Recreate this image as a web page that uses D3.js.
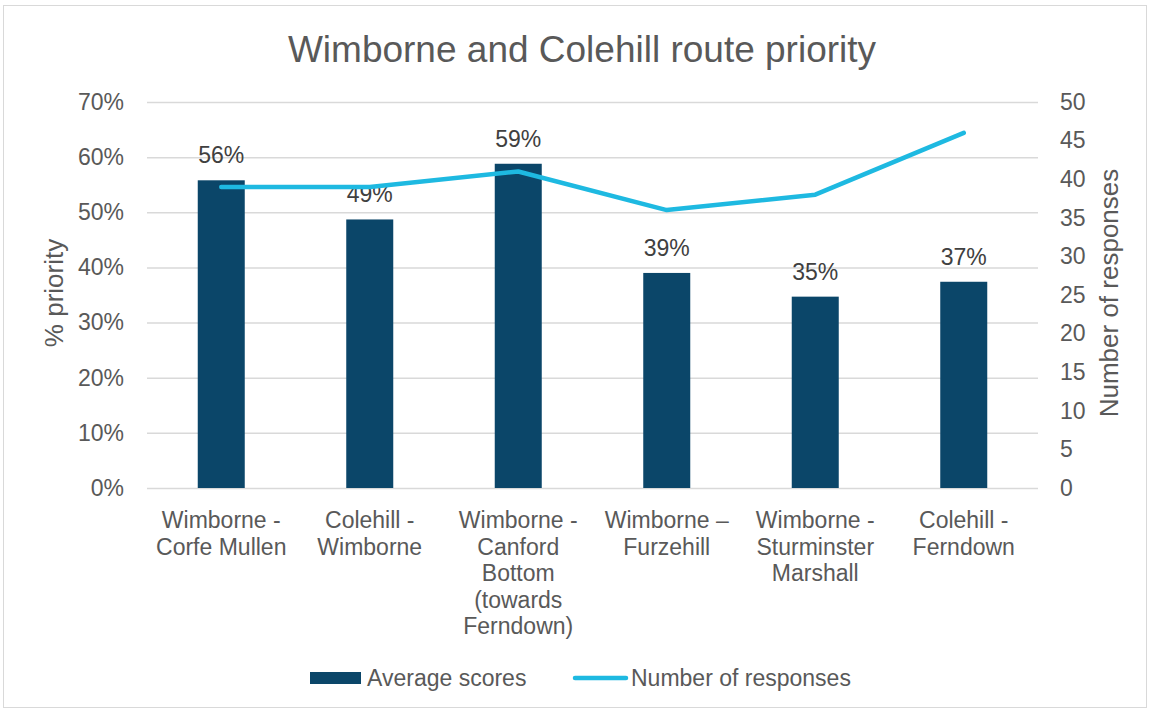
<!DOCTYPE html>
<html lang="en">
<head>
<meta charset="UTF-8">
<title>Wimborne and Colehill route priority</title>
<style>
    html, body { margin: 0; padding: 0; background: #fff; }
    svg { display: block; font-family: "Liberation Sans", Arial, sans-serif; }
</style>
</head>
<body>
<svg id="svg" width="1150" height="711"></svg>
<script src="https://d3js.org/d3.v7.min.js"></script>
<script>
    // chart values
    const routes = [
        ["Wimborne -", "Corfe Mullen"],
        ["Colehill -", "Wimborne"],
        ["Wimborne -", "Canford", "Bottom", "(towards", "Ferndown)"],
        ["Wimborne \u2013", "Furzehill"],
        ["Wimborne -", "Sturminster", "Marshall"],
        ["Colehill -", "Ferndown"]
    ];
    const averageScores = [0.558, 0.487, 0.588, 0.39, 0.347, 0.374];
    const responses = [39, 39, 41, 36, 38, 46];
    const leftTicks = [0, 0.1, 0.2, 0.3, 0.4, 0.5, 0.6, 0.7];
    const rightTicks = [0, 5, 10, 15, 20, 25, 30, 35, 40, 45, 50];

    const barColor = '#0b4669';
    const lineColor = '#1eb9e1';
    const textColor = '#595959';

    const margin = { top: 102, right: 112, bottom: 223, left: 147 };
    const width = 1150 - margin.left - margin.right;
    const height = 711 - margin.top - margin.bottom;

    const svg = d3.select('#svg');

    // outer border
    svg.append('rect')
        .attr('x', 3.5).attr('y', 5.5)
        .attr('width', 1143).attr('height', 702)
        .attr('fill', 'none').attr('stroke', '#d9d9d9');

    svg.append('text')
        .attr('x', 582).attr('y', 62)
        .attr('text-anchor', 'middle')
        .attr('font-size', 37)
        .attr('fill', textColor)
        .text('Wimborne and Colehill route priority');

    const g = svg.append('g').attr('transform', `translate(${margin.left},${margin.top})`);

    const x = d3.scaleBand()
        .domain(d3.range(routes.length))
        .range([0, width]);

    const yLeft = d3.scaleLinear().domain([0, 0.7]).range([height, 0]);
    const yRight = d3.scaleLinear().domain([0, 50]).range([height, 0]);

    // gridlines + left axis
    const leftAxis = d3.axisLeft(yLeft)
        .tickValues(leftTicks)
        .tickSize(-width)
        .tickPadding(23)
        .tickFormat(d3.format('.0%'));

    const la = g.append('g').call(leftAxis);
    la.select('.domain').remove();
    la.selectAll('line').attr('stroke', '#d9d9d9').attr('stroke-width', 1.5);
    la.selectAll('text').attr('font-size', 23).attr('fill', textColor);

    const rightAxis = d3.axisRight(yRight)
        .tickValues(rightTicks)
        .tickSize(0)
        .tickPadding(22);
    const ra = g.append('g').attr('transform', `translate(${width},0)`).call(rightAxis);
    ra.select('.domain').remove();
    ra.selectAll('text').attr('font-size', 23).attr('fill', textColor);

    // bars
    const barW = 47;
    g.selectAll('.bar')
        .data(averageScores)
        .join('rect')
        .attr('class', 'bar')
        .attr('x', (d, i) => x(i) + x.bandwidth() / 2 - barW / 2)
        .attr('y', d => yLeft(d))
        .attr('width', barW)
        .attr('height', d => height - yLeft(d))
        .attr('fill', barColor);

    // bar labels
    g.selectAll('.barlabel')
        .data(averageScores)
        .join('text')
        .attr('class', 'barlabel')
        .attr('x', (d, i) => x(i) + x.bandwidth() / 2)
        .attr('y', d => yLeft(d) - 17)
        .attr('text-anchor', 'middle')
        .attr('font-size', 23)
        .attr('fill', '#404040')
        .text(d => Math.round(d * 100) + '%');

    // response line
    const line = d3.line()
        .x((d, i) => x(i) + x.bandwidth() / 2)
        .y(d => yRight(d));

    g.append('path')
        .datum(responses)
        .attr('d', line)
        .attr('fill', 'none')
        .attr('stroke', lineColor)
        .attr('stroke-width', 4.5)
        .attr('stroke-linejoin', 'round')
        .attr('stroke-linecap', 'round');

    // category labels
    const cat = g.selectAll('.cat')
        .data(routes)
        .join('text')
        .attr('class', 'cat')
        .attr('text-anchor', 'middle')
        .attr('font-size', 23)
        .attr('fill', textColor)
        .attr('transform', (d, i) => `translate(${x(i) + x.bandwidth() / 2},${height + 40})`);

    cat.selectAll('tspan')
        .data(d => d)
        .join('tspan')
        .attr('x', 0)
        .attr('y', (d, i) => i * 26.5)
        .text(d => d);

    // axis titles
    svg.append('text')
        .attr('transform', 'translate(63,293) rotate(-90)')
        .attr('text-anchor', 'middle')
        .attr('font-size', 26)
        .attr('fill', textColor)
        .text('% priority');

    svg.append('text')
        .attr('transform', 'translate(1118,293) rotate(-90)')
        .attr('text-anchor', 'middle')
        .attr('font-size', 26)
        .attr('fill', textColor)
        .text('Number of responses');

    // legend
    const legend = svg.append('g').attr('transform', 'translate(0,678)');
    legend.append('rect')
        .attr('x', 310).attr('y', -6)
        .attr('width', 51).attr('height', 12)
        .attr('fill', barColor);
    legend.append('text')
        .attr('x', 367).attr('y', 7.5)
        .attr('font-size', 23)
        .attr('fill', textColor)
        .text('Average scores');
    legend.append('line')
        .attr('x1', 575).attr('x2', 626)
        .attr('y1', 0).attr('y2', 0)
        .attr('stroke', lineColor)
        .attr('stroke-width', 4.5)
        .attr('stroke-linecap', 'round');
    legend.append('text')
        .attr('x', 631).attr('y', 7.5)
        .attr('font-size', 23)
        .attr('fill', textColor)
        .text('Number of responses');
</script>
</body>
</html>
